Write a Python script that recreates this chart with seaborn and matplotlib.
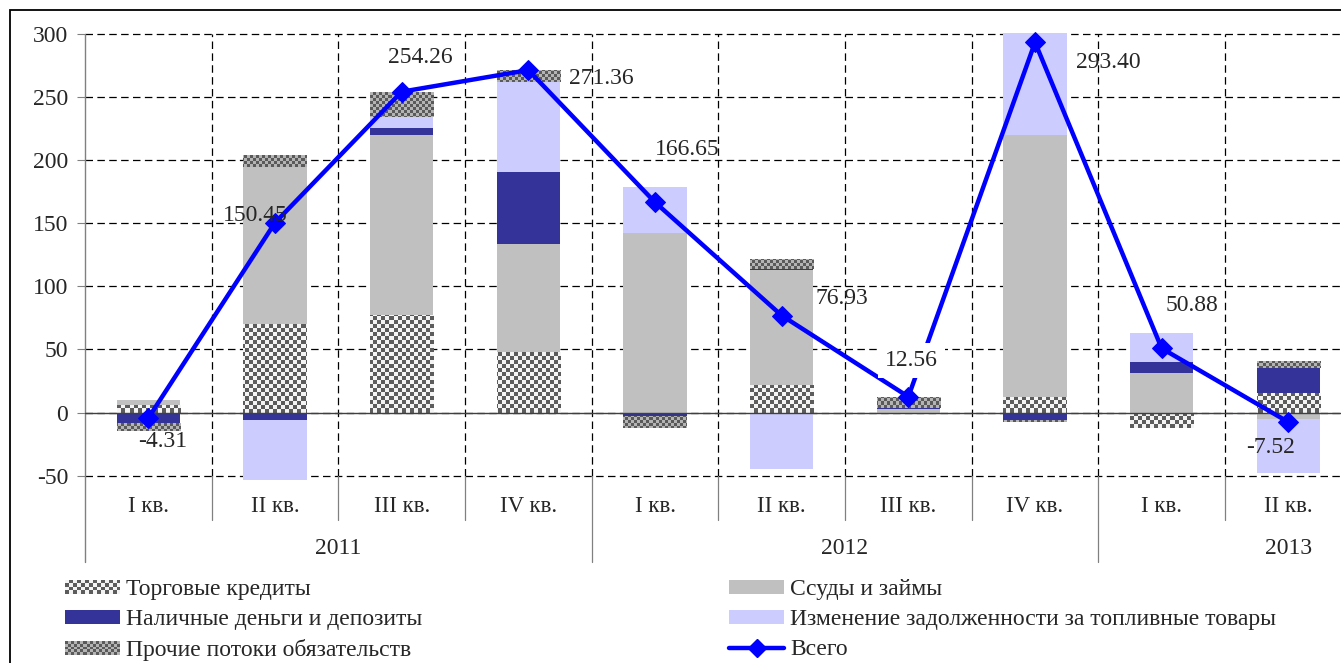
import numpy as np
import matplotlib
matplotlib.use('Agg')
import matplotlib.pyplot as plt
from matplotlib.patches import Patch, Rectangle
from matplotlib.lines import Line2D
from matplotlib.colors import ListedColormap
from matplotlib.legend_handler import HandlerBase
import seaborn as sns

# ---- data ----
quarters = ['I кв.', 'II кв.', 'III кв.', 'IV кв.',
            'I кв.', 'II кв.', 'III кв.', 'IV кв.',
            'I кв.', 'II кв.']
years = ['2011', '2012', '2013']
# year group centres (2013 group continues past the cropped right edge)
year_centers = [1.5, 5.5, 9.0]
year_breaks = [3.5, 7.5]

trade_credits = [6.1, 70.4, 77.0, 47.9, -1.0, 21.9, 0.0, 12.2, -12.4, 15.3]
loans = [4.0, 124.1, 142.6, 86.0, 142.7, 90.7, 2.7, 207.5, 31.7, -5.0]
cash_deposits = [-7.9, -5.8, 5.8, 56.4, -2.0, 1.0, 0.8, -5.8, 8.5, 20.4]
fuel_debt = [0.0, -47.6, 8.7, 71.8, 36.2, -44.9, 0.0, 80.8, 23.1, -43.0]
other_flows = [-6.5, 9.3, 20.2, 9.3, -9.3, 8.2, 9.1, -1.3, 0.0, 4.8]
total = [-4.31, 150.45, 254.26, 271.36, 166.65, 76.93, 12.56, 293.40, 50.88, -7.52]

# label offsets in pixels (dx, dy) from each point
label_offsets = [(14, -23), (-20, 7), (19, 34), (73, -8), (32, 53),
                 (60, 17), (3, 36), (73, -20), (30, 43), (-18, -25)]

names = ['Торговые кредиты', 'Ссуды и займы', 'Наличные деньги и депозиты',
         'Изменение задолженности за топливные товары', 'Прочие потоки обязательств']

sns.set_theme(style='white')
plt.rcParams['font.family'] = ['Liberation Serif', 'DejaVu Serif']

solid = {
    'Ссуды и займы': '#C0C0C0',
    'Наличные деньги и депозиты': '#333399',
    'Изменение задолженности за топливные товары': '#CCCCFF',
}
# checkerboard fills: (dark, light) colours and cell size in pixels
checker = {
    'Торговые кредиты': (('#5c5c5c', '#f4f4f4'), 4),
    'Прочие потоки обязательств': (('#5a5a5a', '#b4b4b4'), 3),
}


class CheckerHandler(HandlerBase):
    def __init__(self, colors, cell):
        super().__init__()
        self.colors = colors
        self.cell = cell * 0.72  # px -> pt

    def create_artists(self, legend, orig_handle, xdescent, ydescent,
                       width, height, fontsize, trans):
        nx = max(1, int(round(width / self.cell)))
        ny = max(1, int(round(height / self.cell)))
        cw, ch = width / nx, height / ny
        arts = []
        for i in range(nx):
            for j in range(ny):
                arts.append(Rectangle((-xdescent + i * cw, -ydescent + j * ch), cw, ch,
                                      facecolor=self.colors[(i + j) % 2],
                                      edgecolor='none', transform=trans))
        return arts


fig = plt.figure(figsize=(13.41, 6.63), dpi=100)
W, H = 1341, 663
ax = fig.add_axes([85 / W, (H - 480.1) / H, 11 * 126.67 / W, 448 / H])
ylo, yhi = -53.5, 301.5
ax.set_xlim(-0.5, 10.5)
ax.set_ylim(ylo, yhi)

x = np.arange(len(quarters))

# gridlines
dash = (0, (6, 3.5))
for yv in range(-50, 301, 50):
    ax.axhline(yv, color='black', lw=0.9, linestyle=dash, zorder=0)
ax.vlines(np.arange(0.5, 10.5, 1), -50, 300, colors='black', lw=0.9,
          linestyles=[dash], zorder=0)

bb = ax.get_window_extent()

# stacked bars, positives and negatives stacked separately
series = [trade_credits, loans, cash_deposits, fuel_debt, other_flows]
pos_bottom = np.zeros(len(x))
neg_bottom = np.zeros(len(x))
for name, vals in zip(names, series):
    v = np.array(vals)
    bottoms = np.where(v >= 0, pos_bottom, neg_bottom)
    color = solid.get(name, '#888888')
    bars = ax.bar(x, v, bottom=bottoms, width=0.5, color=color, linewidth=0, zorder=2)
    if name in checker:
        cols, cell = checker[name]
        nx, ny = int(bb.width / cell), int(bb.height / cell)
        board = np.add.outer(np.arange(ny), np.arange(nx)) % 2
        for rect in bars:
            if rect.get_height() == 0:
                continue
            im = ax.imshow(board, cmap=ListedColormap(cols), origin='lower',
                           extent=(-0.5, 10.5, ylo, yhi), aspect='auto',
                           interpolation='nearest', zorder=2.1)
            im.set_clip_path(rect)
    pos_bottom += np.clip(v, 0, None)
    neg_bottom += np.clip(v, None, 0)

ax.set_xlim(-0.5, 10.5)
ax.set_ylim(ylo, yhi)
ax.axhline(0, color='#404040', lw=1.0, zorder=3)

# total line
sns.lineplot(x=x, y=total, ax=ax, color='#0000FF', lw=3.2, marker='D',
             markersize=10, markeredgecolor='#0000FF', zorder=5, legend=False)

for xi, val, (dx, dy) in zip(x, total, label_offsets):
    kw = {}
    if val == 12.56:
        kw['bbox'] = dict(facecolor='white', edgecolor='none', pad=5)
    ax.annotate(f'{val:.2f}', (xi, val), xytext=(dx, dy), textcoords='offset pixels',
                ha='center', va='center', fontsize=17, zorder=6, **kw)

# axes styling
for s in ax.spines.values():
    s.set_visible(False)
ax.set_yticks(range(-50, 301, 50))
ax.set_yticklabels([str(v) for v in range(-50, 301, 50)])
ax.tick_params(axis='y', left=True, length=6, width=0.8, color='#808080', pad=6, labelsize=17)
ax.set_xticks([])
ax.grid(False)

tr = ax.get_xaxis_transform()
f300 = (300 - ylo) / (yhi - ylo)
fm50 = (-50 - ylo) / (yhi - ylo)
ax.plot([-0.5, -0.5], [-0.183, f300], transform=tr, color='#808080', lw=1.0, clip_on=False)
for b in np.arange(0.5, 10.5, 1):
    low = -0.183 if b in year_breaks else -0.089
    ax.plot([b, b], [low, fm50], transform=tr, color='#808080', lw=0.9, clip_on=False)

for xi, q in zip(x, quarters):
    ax.text(xi, -0.058, q, transform=tr, ha='center', va='center', fontsize=16.5)
for xc, yr in zip(year_centers, years):
    ax.text(xc, -0.152, yr, transform=tr, ha='center', va='center', fontsize=17)

# legend in two columns
leg_kw = dict(loc='upper left', frameon=False, fontsize=17, handlelength=2.35,
              handleheight=0.55, handletextpad=0.25, labelspacing=0.39,
              borderpad=0, borderaxespad=0)
handles = {n: Patch(facecolor=solid.get(n, '#888888'), linewidth=0, label=n) for n in names}
hmap = {handles[n]: CheckerHandler(*checker[n]) for n in checker}
h1 = [handles[n] for n in
      ['Торговые кредиты', 'Наличные деньги и депозиты', 'Прочие потоки обязательств']]
h2 = [handles[n] for n in
      ['Ссуды и займы', 'Изменение задолженности за топливные товары']]
h2.append(Line2D([], [], color='#0000FF', lw=3.2, marker='D', markersize=9, label='Всего'))
fig.legend(handles=h1, handler_map=hmap, bbox_to_anchor=(65 / W, 1 - 579 / H), **leg_kw)
fig.legend(handles=h2, bbox_to_anchor=(729 / W, 1 - 579 / H), **leg_kw)

# outer frame (right and bottom edges fall outside the crop)
fig.add_artist(Rectangle((10 / W, -0.5), 2, 1.5 - 10 / H, transform=fig.transFigure,
                         fill=False, edgecolor='black', lw=1.3))

fig.savefig('out.png', dpi=100)
